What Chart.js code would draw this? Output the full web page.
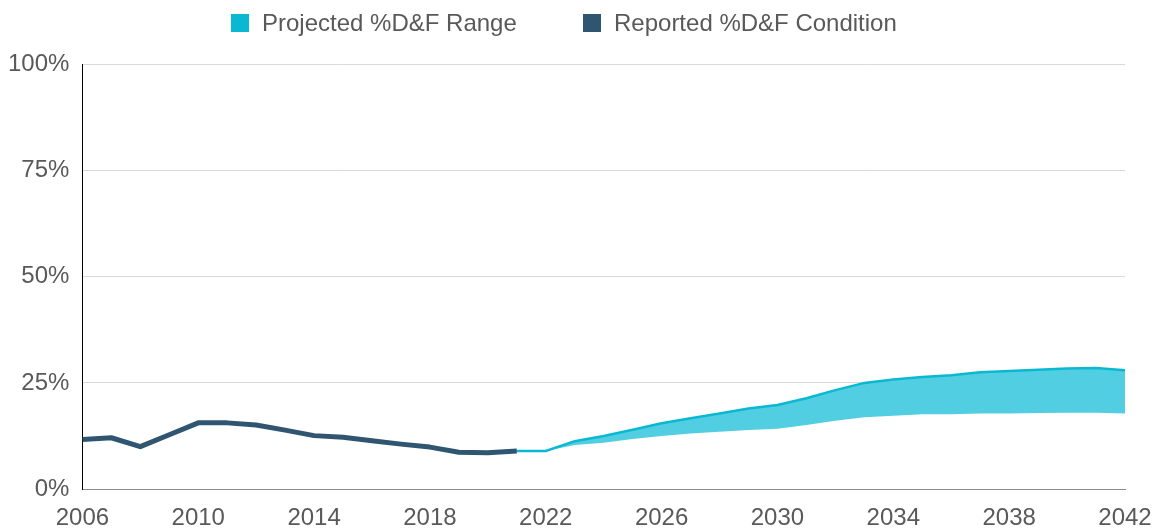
<!DOCTYPE html>
<html><head><meta charset="utf-8">
<script src="https://cdn.jsdelivr.net/npm/chart.js@4.4.1/dist/chart.umd.min.js"></script>
<style>
html,body{margin:0;padding:0;background:#fff;}
#wrap{position:relative;width:1158px;height:529px;}
#c{position:absolute;left:0;top:0;}
#legend{position:absolute;top:0;left:0;width:1158px;height:46px;font-family:"Liberation Sans",Arial,sans-serif;font-size:24px;color:#595959;}
.item{position:absolute;top:9px;display:flex;align-items:center;white-space:nowrap;}
.box{display:inline-block;width:18px;height:18px;margin-right:13px;}
</style></head>
<body>
<div id="wrap">
<canvas id="c" width="1158" height="529"></canvas>
<div id="legend"></div>
</div>
<script>
// ---- data ----
const reportedYears = [2006,2007,2008,2009,2010,2011,2012,2013,2014,2015,2016,2017,2018,2019,2020,2021];
const reportedValues = [11.7,12.1,10.0,12.8,15.6,15.6,15.1,13.9,12.6,12.2,11.4,10.6,9.9,8.7,8.6,9.0];
const projectedYears = [2021,2022,2023,2024,2025,2026,2027,2028,2029,2030,2031,2032,2033,2034,2035,2036,2037,2038,2039,2040,2041,2042];
const projectedHigh = [9.0,9.0,11.3,12.5,14.0,15.5,16.7,17.8,19.0,19.8,21.4,23.3,25.0,25.8,26.4,26.8,27.5,27.8,28.1,28.4,28.5,28.0];
const projectedLow  = [9.0,9.0,10.4,10.9,11.8,12.5,13.1,13.5,13.9,14.2,15.1,16.1,16.9,17.3,17.6,17.6,17.8,17.8,17.9,18.0,18.0,17.8];
const xTickYears = [2006,2010,2014,2018,2022,2026,2030,2034,2038,2042];
const yTicks = [0,25,50,75,100];
const legendLabels = ['Projected %D&F Range','Reported %D&F Condition'];

const CYAN_LINE = '#0BB8D2';
const CYAN_FILL = '#52CEE2';
const DARK = '#2F5571';
const TEXT = '#595959';

const pts = (xs, ys) => xs.map((x,i)=>({x:x, y:ys[i]}));

// HTML legend
const legendColors = [CYAN_LINE, DARK];
const legendLeft = [231, 583];
const lg = document.getElementById('legend');
legendLabels.forEach((t,i)=>{
  const d = document.createElement('div');
  d.className='item'; d.style.left = legendLeft[i]+'px';
  const b = document.createElement('span'); b.className='box'; b.style.background = legendColors[i];
  const s = document.createElement('span'); s.textContent = t;
  d.appendChild(b); d.appendChild(s); lg.appendChild(d);
});

const font = {family:'"Liberation Sans", Arial, sans-serif', size:24};

new Chart(document.getElementById('c'), {
  type:'line',
  data:{
    datasets:[
      {label:'Reported %D&F Condition', data:pts(reportedYears, reportedValues), borderColor:DARK, borderWidth:5, pointRadius:0, tension:0, fill:false, order:0, borderJoinStyle:'round', borderCapStyle:'butt'},
      {label:'Projected %D&F Range', data:pts(projectedYears, projectedHigh), borderColor:CYAN_LINE, borderWidth:2.5, pointRadius:0, tension:0, fill:'+1', backgroundColor:CYAN_FILL, order:1},
      {label:'Projected low', data:pts(projectedYears, projectedLow), borderColor:'rgba(0,0,0,0)', borderWidth:0, pointRadius:0, tension:0, fill:false, order:2}
    ]
  },
  options:{
    responsive:false, animation:false, devicePixelRatio:1,
    layout:{padding:{top:64,left:8,right:33,bottom:-4}},
    plugins:{legend:{display:false}, tooltip:{enabled:false}},
    scales:{
      x:{type:'linear', min:2006, max:2042,
        afterBuildTicks:(s)=>{s.ticks = xTickYears.map(v=>({value:v}));},
        ticks:{color:TEXT, font:font, padding:0, maxRotation:0, autoSkip:false, callback:(v)=>String(v)},
        grid:{display:true, drawOnChartArea:false, drawTicks:true, tickLength:15, color:'rgba(0,0,0,0)', tickColor:'rgba(0,0,0,0)'},
        border:{display:true, color:'#8C8C8C', width:1}
      },
      y:{min:0, max:100,
        afterBuildTicks:(s)=>{s.ticks = yTicks.map(v=>({value:v}));},
        ticks:{color:TEXT, font:font, padding:0, callback:(v)=>v+'%'},
        grid:{color:'#D9D9D9', lineWidth:1, drawTicks:true, tickLength:13, tickColor:'rgba(0,0,0,0)'},
        border:{display:true, color:'#000000', width:1}
      }
    }
  }
});
</script>
</body></html>
